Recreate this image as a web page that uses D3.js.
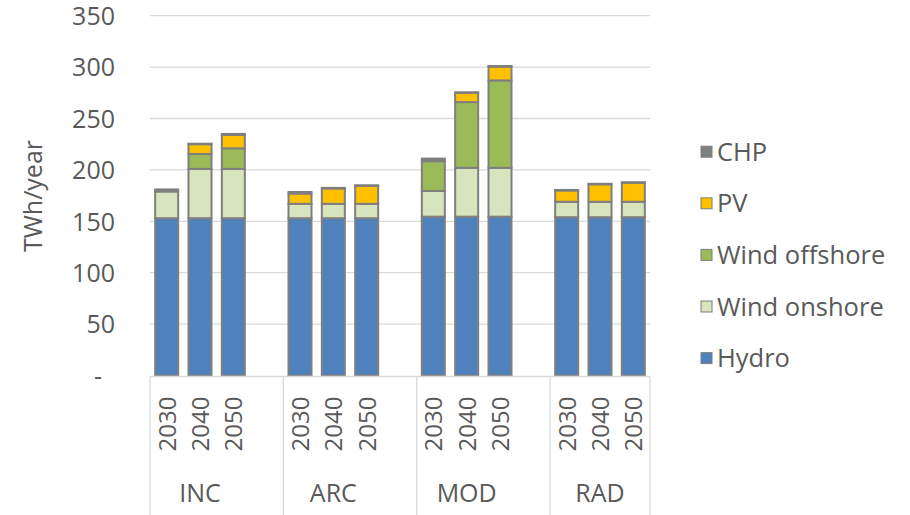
<!DOCTYPE html>
<html>
<head>
<meta charset="utf-8">
<script src="https://cdn.jsdelivr.net/npm/d3@7"></script>
<style>
  html, body { margin: 0; padding: 0; background: #ffffff; }
  svg { display: block; }
  text { font-family: "Open Sans", "Noto Sans", sans-serif; fill: #595959; }
</style>
</head>
<body>
<svg id="chart" width="910" height="515"></svg>
<script>
// Scenario groups and years shown inside each group
const scenarios = ["INC", "ARC", "MOD", "RAD"];
const years = ["2030", "2040", "2050"];

// Generation by source, TWh/year, ordered INC(2030,2040,2050), ARC, MOD, RAD
const hydro        = [153, 153, 153,  153, 153, 153,  154.5, 154.5, 154.5,  154, 154, 154];
const windOnshore  = [ 26,  48,  48,   14,  14,  14,   25,   47.5,  47.5,   15,  15,  15];
const windOffshore = [  0,  14.5, 20,   0,   0,   0,   29,   64,    85,      0,   0,   0];
const pv           = [  0,  9.5, 13,   10,  15,  17.5,  0,    9,     13.5,   11,  17,  18.5];
const chp          = [  2,  0.5,  1,   1.5, 0.5, 0.5,   2.5,  0.5,   0.5,    0.5, 0.5, 0.5];

const seriesNames = ["Hydro", "Wind onshore", "Wind offshore", "PV", "CHP"];
const seriesValues = [hydro, windOnshore, windOffshore, pv, chp];
const seriesColors = ["#4f81bd", "#d7e4bd", "#9bbb59", "#ffc000", "#7f7f7f"];

const yTicks = [0, 50, 100, 150, 200, 250, 300, 350];

const svg = d3.select("#chart");
const plot = { left: 150, right: 650, top: 15.7, bottom: 375.5 };

// One slot per year, plus an empty spacer slot after every group but the last
const slots = [];
scenarios.forEach((s, gi) => {
  years.forEach(y => slots.push(s + "|" + y));
  if (gi < scenarios.length - 1) slots.push(s + "|gap");
});

const x = d3.scaleBand()
  .domain(slots)
  .range([plot.left, plot.right])
  .paddingInner(0.31)
  .paddingOuter(0.155);

const y = d3.scaleLinear()
  .domain([0, 350])
  .range([plot.bottom, plot.top]);

// Gridlines
svg.append("g")
  .selectAll("line")
  .data(yTicks.filter(d => d > 0))
  .join("line")
  .attr("x1", plot.left).attr("x2", plot.right)
  .attr("y1", d => y(d)).attr("y2", d => y(d))
  .attr("stroke", "#d9d9d9").attr("stroke-width", 1.3);

// Y axis labels (zero shown as an accounting dash)
const yAxis = d3.axisLeft(y)
  .tickValues(yTicks)
  .tickSize(0)
  .tickPadding(0)
  .tickFormat(d => d === 0 ? "-" : d);
const yg = svg.append("g")
  .attr("transform", "translate(115,0)")
  .call(yAxis);
yg.select(".domain").remove();
yg.selectAll("text")
  .style("font-size", "25px")
  .attr("fill", "#595959")
  .attr("dy", "0.35em")
  .attr("dx", d => d === 0 ? -13 : 0);

// Y axis title
svg.append("text")
  .attr("transform", `translate(42,196) rotate(-90)`)
  .attr("text-anchor", "middle")
  .style("font-size", "25px")
  .text("TWh/year");

// Stacked bars
const rows = [];
scenarios.forEach((s, gi) => {
  years.forEach((yr, yi) => {
    const i = gi * years.length + yi;
    const row = { key: s + "|" + yr };
    seriesNames.forEach((n, si) => { row[n] = seriesValues[si][i]; });
    rows.push(row);
  });
});

const stack = d3.stack().keys(seriesNames);
const stacked = stack(rows);

svg.append("g")
  .selectAll("g")
  .data(stacked)
  .join("g")
  .attr("fill", (d, i) => seriesColors[i])
  .selectAll("rect")
  .data(d => d.filter(p => p[1] - p[0] > 0))
  .join("rect")
  .attr("x", d => x(d.data.key))
  .attr("width", x.bandwidth())
  .attr("y", d => y(d[1]))
  .attr("height", d => y(d[0]) - y(d[1]))
  .attr("stroke", "#7f7f7f")
  .attr("stroke-width", 2);

// Category axis: baseline and group separators
svg.append("line")
  .attr("x1", plot.left).attr("x2", plot.right)
  .attr("y1", plot.bottom + 1).attr("y2", plot.bottom + 1)
  .attr("stroke", "#d9d9d9").attr("stroke-width", 1.3);

const step = x.step();
const groupBounds = [plot.left];
scenarios.forEach((s, gi) => {
  const last = gi < scenarios.length - 1 ? x(s + "|gap") : x(s + "|2050");
  groupBounds.push(last - x.paddingInner() * step / 2 + step);
});
svg.append("g")
  .selectAll("line")
  .data(groupBounds)
  .join("line")
  .attr("x1", d => d).attr("x2", d => d)
  .attr("y1", plot.bottom + 1).attr("y2", 515)
  .attr("stroke", "#d9d9d9").attr("stroke-width", 1.3);

// Year labels, rotated
svg.append("g")
  .selectAll("text")
  .data(rows)
  .join("text")
  .attr("transform", d => `translate(${x(d.key) + x.bandwidth() / 2 + 9},${plot.bottom + 21}) rotate(-90)`)
  .attr("text-anchor", "end")
  .style("font-size", "24px")
  .text(d => d.key.split("|")[1]);

// Scenario labels
svg.append("g")
  .selectAll("text")
  .data(scenarios)
  .join("text")
  .attr("x", (d, i) => (groupBounds[i] + (i < scenarios.length - 1 ? groupBounds[i + 1] - step : groupBounds[i + 1])) / 2)
  .attr("y", 502)
  .attr("text-anchor", "middle")
  .style("font-size", "25px")
  .text(d => d);

// Legend, top entry is the last series
const legendItems = seriesNames.map((n, i) => ({ name: n, color: seriesColors[i] })).reverse();
const lg = svg.append("g")
  .selectAll("g")
  .data(legendItems)
  .join("g")
  .attr("transform", (d, i) => `translate(701,${151.7 + i * 51.6})`);
lg.append("rect")
  .attr("x", 0).attr("y", -5.5)
  .attr("width", 11).attr("height", 11)
  .attr("fill", d => d.color)
  .attr("stroke", "#7f7f7f").attr("stroke-width", 1);
lg.append("text")
  .attr("x", 16).attr("dy", "0.36em")
  .style("font-size", "25.5px")
  .text(d => d.name);
</script>
</body>
</html>
